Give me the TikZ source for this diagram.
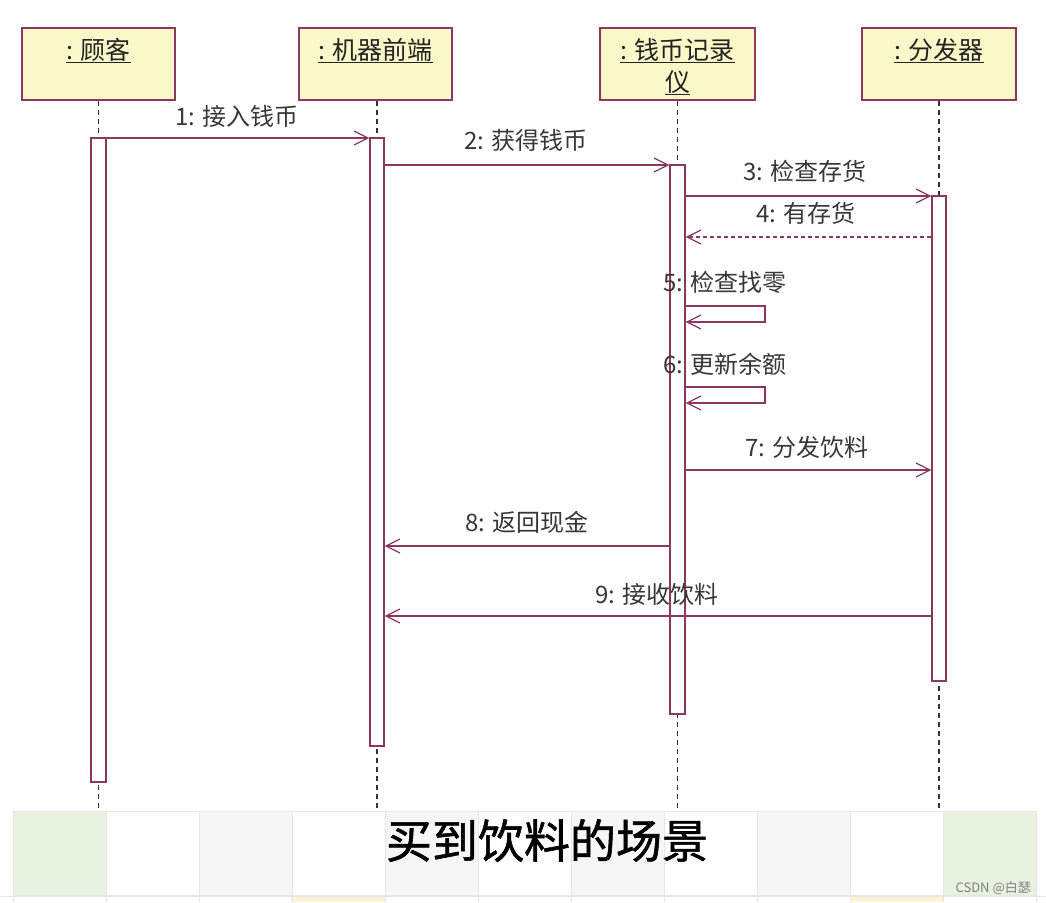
\documentclass[tikz,border=0pt]{standalone}
\usepackage{fontspec}
\setmainfont{Noto Sans CJK SC}
\newfontfamily\titlefont[FakeBold=1.2]{Noto Sans CJK SC}
\usetikzlibrary{arrows.meta}
\definecolor{edge}{RGB}{140,55,95}
\definecolor{boxfill}{RGB}{250,247,200}
\definecolor{txt}{RGB}{35,35,35}
\definecolor{lbl}{RGB}{55,55,55}
\definecolor{cellgreen}{RGB}{232,242,224}
\definecolor{cellgray}{RGB}{246,246,246}
\definecolor{cellline}{RGB}{230,230,230}
\definecolor{cellyellow}{RGB}{255,244,210}
\begin{document}
\begin{tikzpicture}[x=1pt,y=-1pt,
  header/.style={draw=edge, fill=boxfill, line width=1.3pt, minimum width=153pt, minimum height=72pt, inner sep=0pt},
  bar/.style={draw=edge, fill=white, line width=1.2pt, minimum width=14pt, inner sep=0pt},
  lifeline/.style={draw=black!80, line width=1.5pt, dash pattern=on 5pt off 4pt},
  msg/.style={draw=edge, line width=1.2pt, -{Straight Barb[length=14pt,width=14pt,line width=1.2pt]}},
  reply/.style={msg, dash pattern=on 4pt off 3pt},
  mlabel/.style={font=\fontsize{24}{26}\selectfont, text=lbl, inner sep=0pt, anchor=base},
  htext/.style={font=\fontsize{25}{30}\selectfont, text=txt, inner sep=0pt, align=center, anchor=base},
  cell/.style={draw=cellline, line width=0.6pt}
]
\fill[white] (0,0) rectangle (1046,902);
\useasboundingbox (0,0) rectangle (1046,902);

% bottom strip of cells
\foreach \x/\c in {13/cellgreen,106/white,199/cellgray,292/white,385/cellgray,478/white,571/cellgray,664/white,757/cellgray,850/white,943/cellgreen}{
  \path[cell, fill=\c] (\x,811) rectangle ++(93,84);
}
\draw[cellline, line width=0.8pt] (0,896) -- (1046,896);
\fill[cellyellow] (292,897) rectangle (385,902);
\fill[cellyellow] (850,897) rectangle (943,902);
\foreach \x in {13,106,199,292,385,478,571,664,757,850,943,1036}{
  \draw[cellline, line width=0.6pt] (\x,897) -- (\x,902);
}

% headers
\node[header] (h1) at (98.5,64) {};
\node[header] (h2) at (375.5,64) {};
\node[header, minimum width=155pt] (h3) at (677.5,64) {};
\node[header, minimum width=154pt] (h4) at (939,64) {};
\node[htext] (t1) at (98.5,59) {\underline{: 顾客}};
\node[htext] (t2) at (375.5,59) {\underline{: 机器前端}};
\node[htext] (t3) at (677.5,59) {\underline{: 钱币记录}};
\node[htext] (t3b) at (677.5,91) {\underline{仪}};
\node[htext] (t4) at (939,59) {\underline{: 分发器}};

% lifeline ends
\coordinate (e1) at (98.5,808);
\coordinate (e2) at (377,808);
\coordinate (e3) at (677.5,808);
\coordinate (e4) at (939,808);
\draw[lifeline] (h1.south) -- (e1);
\draw[lifeline] (h2.south -| e2) -- (e2);
\draw[lifeline] (h3.south) -- (e3);
\draw[lifeline] (h4.south) -- (e4);

% activation bars
\node[bar, minimum width=15pt, minimum height=644pt] (a1) at (98.5,460) {};
\node[bar, minimum height=608pt] (a2) at (377,442) {};
\node[bar, minimum width=15pt, minimum height=549pt] (a3) at (677.5,439.5) {};
\node[bar, minimum height=485pt] (a4) at (939,438.5) {};

% message rows
\coordinate (y1) at (0,138);
\coordinate (y2) at (0,165);
\coordinate (y3) at (0,196);
\coordinate (y4) at (0,237);
\coordinate (y5a) at (0,306);
\coordinate (y5b) at (0,322);
\coordinate (y6a) at (0,387);
\coordinate (y6b) at (0,403);
\coordinate (y7) at (0,470);
\coordinate (y8) at (0,546);
\coordinate (y9) at (0,616);
\coordinate (loopx) at (765,0);

\draw[msg] (a1.east |- y1) -- (a2.west |- y1);
\draw[msg] (a2.east |- y2) -- (a3.west |- y2);
\draw[msg] (a3.east |- y3) -- (a4.west |- y3);
\draw[reply] (a4.west |- y4) -- (a3.east |- y4);
\draw[msg] (a3.east |- y5a) -- (loopx |- y5a) -- (loopx |- y5b) -- (a3.east |- y5b);
\draw[msg] (a3.east |- y6a) -- (loopx |- y6a) -- (loopx |- y6b) -- (a3.east |- y6b);
\draw[msg] (a3.east |- y7) -- (a4.west |- y7);
\draw[msg] (a3.west |- y8) -- (a2.east |- y8);
\draw[msg] (a4.west |- y9) -- (a2.east |- y9);

% message labels
\node[mlabel] (l1) at (237,125) {1: 接入钱币};
\node[mlabel] (l2) at (526,149) {2: 获得钱币};
\node[mlabel] (l3) at (805,180) {3: 检查存货};
\node[mlabel] (l4) at (806,222) {4: 有存货};
\node[mlabel] (l5) at (725,291) {5: 检查找零};
\node[mlabel] (l6) at (725,373) {6: 更新余额};
\node[mlabel] (l7) at (807,456) {7: 分发饮料};
\node[mlabel] (l8) at (527,531) {8: 返回现金};
\node[mlabel] (l9) at (657,603) {9: 接收饮料};

% title and watermark
\node[font=\titlefont\fontsize{46}{50}\selectfont, text=black, inner sep=0pt, anchor=base] (title) at (547,858) {买到饮料的场景};
\node[font=\fontsize{13}{14}\selectfont, text=black!50, inner sep=0pt, anchor=base east] (wm) at (1031,892) {CSDN @白瑟};
\end{tikzpicture}
\end{document}
